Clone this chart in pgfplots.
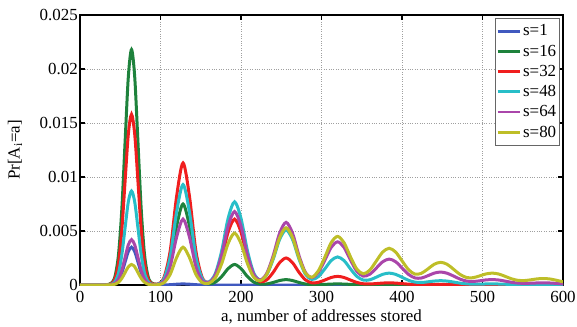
\documentclass[border=0pt]{standalone}
\usepackage{fontspec}
\setmainfont{Liberation Serif}
\usepackage{pgfplots}
\usepackage{pgfplotstable}
\pgfplotsset{compat=1.18}
\definecolor{c1}{RGB}{64,89,191}
\definecolor{c16}{RGB}{30,130,60}
\definecolor{c32}{RGB}{240,30,30}
\definecolor{c48}{RGB}{40,190,200}
\definecolor{c64}{RGB}{170,70,170}
\definecolor{c80}{RGB}{190,190,40}
\pgfplotstableread{
x s1 s16 s32 s48 s64 s80
0 0 0 0 0 0 0
16 0 0 0 0 0 0
32 0 0 0 0 0 0
40 0.000039 0.00024 0.000174 0.000096 0.000046 0.000021
44 0.000154 0.000957 0.000694 0.000382 0.000184 0.000083
48 0.000473 0.00294 0.00213 0.00117 0.000567 0.000257
52 0.00114 0.00708 0.00513 0.00282 0.00136 0.000617
56 0.00212 0.01323 0.00959 0.00528 0.00255 0.00115
60 0.00309 0.01924 0.01394 0.00768 0.00371 0.00168
64 0.0035 0.0218 0.0158 0.0087 0.0042 0.0019
68 0.00309 0.01924 0.01394 0.00768 0.00371 0.00168
72 0.00212 0.01323 0.00959 0.00528 0.00255 0.00115
76 0.00114 0.00708 0.00513 0.00282 0.00136 0.000617
80 0.000473 0.00294 0.00213 0.00117 0.000567 0.000257
84 0.000154 0.000957 0.000694 0.000382 0.000184 0.000083
88 0.000039 0.000242 0.000177 0.000099 0.000048 0.000022
96 0.000002 0.000052 0.000073 0.000059 0.000038 0.000022
104 0.0000056 0.00042 0.000633 0.000521 0.000342 0.000196
112 0.000028 0.00209 0.00314 0.00259 0.0017 0.000973
120 0.000073 0.00545 0.0082 0.00675 0.00443 0.00254
128 0.0001 0.0075 0.0113 0.0093 0.0061 0.0035
136 0.000073 0.00545 0.0082 0.00675 0.00443 0.00254
144 0.000028 0.00209 0.00314 0.00259 0.0017 0.000974
152 0.0000056 0.000428 0.000657 0.000552 0.000369 0.000215
160 0.0000006 0.0001 0.000245 0.000279 0.000234 0.00016
168 0 0.000259 0.000827 0.00104 0.00092 0.000649
176 0 0.000781 0.00251 0.00316 0.00279 0.00197
184 0 0.00152 0.00489 0.00617 0.00545 0.00384
192 0 0.0019 0.0061 0.0077 0.0068 0.0048
200 0 0.00152 0.00489 0.00617 0.00545 0.00384
208 0 0.000782 0.00251 0.00317 0.0028 0.00198
216 0 0.000261 0.000847 0.00109 0.00097 0.000696
224 0 0.000079 0.000297 0.000468 0.000475 0.000393
232 0 0.000099 0.000479 0.000959 0.00108 0.000984
240 0 0.000235 0.00117 0.00239 0.00272 0.00249
248 0 0.000414 0.00207 0.00422 0.0048 0.00438
256 0 0.0005 0.0025 0.0051 0.0058 0.0053
264 0 0.000414 0.00207 0.00422 0.0048 0.00439
272 0 0.000235 0.00118 0.00241 0.00274 0.00252
280 0 0.000094 0.000478 0.001 0.00117 0.0011
288 0 0.000034 0.000202 0.000513 0.00069 0.000718
296 0 0.000032 0.000245 0.000769 0.00116 0.0013
304 0 0.000057 0.000455 0.00148 0.00227 0.00255
312 0 0.000087 0.000694 0.00226 0.00348 0.00392
320 0 0.0001 0.0008 0.0026 0.004 0.0045
328 0 0.000087 0.000695 0.00226 0.00348 0.00392
336 0 0.000057 0.000457 0.00149 0.00231 0.00261
344 0 0.000028 0.000235 0.000792 0.00126 0.00146
352 0 0.00001 0.000116 0.000455 0.00082 0.00104
360 0 0.000003 0.000097 0.000481 0.001 0.00138
368 0 0.0000006 0.000133 0.000722 0.00156 0.00221
376 0 0 0.00018 0.000988 0.00215 0.00305
384 0 0 0.0002 0.0011 0.0024 0.0034
392 0 0 0.000179 0.000988 0.00216 0.00306
400 0 0 0.00013 0.000718 0.00158 0.00224
408 0 0 0.000078 0.00044 0.000988 0.00143
416 0 0 0.000044 0.000269 0.000655 0.00101
424 0 0 0.000033 0.000233 0.000644 0.00108
432 0 0 0.000038 0.000291 0.000855 0.00148
440 0 0 0.000046 0.000366 0.0011 0.00192
448 0 0 0.00005 0.0004 0.0012 0.0021
456 0 0 0.000045 0.000363 0.00109 0.00192
464 0 0 0.000034 0.000274 0.00083 0.00146
472 0 0 0.000021 0.000175 0.000548 0.000983
480 0 0 0.00001 0.000106 0.000368 0.000699
488 0 0 0.000004 0.000079 0.000327 0.000674
496 0 0 0.0000015 0.000082 0.000386 0.000832
504 0 0 0 0.000095 0.000468 0.00102
512 0 0 0 0.0001 0.0005 0.0011
520 0 0 0 0.000092 0.000462 0.00102
528 0 0 0 0.000072 0.000362 0.000805
536 0 0 0 0.000049 0.000252 0.000576
544 0 0 0 0.000033 0.000177 0.000433
552 0 0 0 0.000026 0.000152 0.000412
560 0 0 0 0.000026 0.000166 0.000481
568 0 0 0 0.000029 0.000192 0.000568
576 0 0 0 0.00003 0.0002 0.0006
584 0 0 0 0.000028 0.000185 0.000554
592 0 0 0 0.000022 0.000145 0.000436
600 0 0 0 0.000015 0.000097 0.000292
}\datatable
\begin{document}
\begin{tikzpicture}[font=\fontsize{17}{20}\selectfont]
\begin{axis}[
  width=483bp, height=270bp, scale only axis,
  xmin=0, xmax=600, ymin=0, ymax=0.025,
  xtick={0,100,200,300,400,500,600},
  ytick={0,0.005,0.01,0.015,0.02,0.025},
  yticklabels={0,0.005,0.01,0.015,0.02,0.025},
  yticklabel style={inner xsep=2bp, inner ysep=0bp},
  xticklabel style={inner ysep=6.5bp},
  tick align=inside, major tick length=5bp,
  axis line style={line width=1.6bp},
  every tick/.style={black, line width=1.2bp},
  grid=major, major grid style={dotted, gray!75, line width=0.8bp},
  /pgf/number format/assume math mode=true,
  scaled y ticks=false,
  xlabel={a, number of addresses stored},
  ylabel={Pr[A\textsubscript{i}=a]},
  xlabel style={inner ysep=0bp},
  ylabel style={at={(axis description cs:-0.1346,0.5)}, anchor=center},
  legend cell align=left,
  legend style={at={(1,1)}, anchor=north east, xshift=-3bp, yshift=-3bp,
    draw=black!60, line width=0.6bp, inner xsep=1.5bp, inner ysep=4.5bp, row sep=3.5bp,
    font=\fontsize{17}{19}\selectfont},
  legend image code/.code={\draw[#1, line width=2.8bp] (0bp,0bp) -- (22bp,0bp);},
  every axis plot/.append style={line width=3bp, smooth},
]
\coordinate (ll) at (rel axis cs:0,0);
\coordinate (ur) at (rel axis cs:1,1);
\addplot[c1] table[x=x, y=s1] {\datatable};
\addplot[c16] table[x=x, y=s16] {\datatable};
\addplot[c32] table[x=x, y=s32] {\datatable};
\addplot[c48] table[x=x, y=s48] {\datatable};
\addplot[c64] table[x=x, y=s64] {\datatable};
\addplot[c80] table[x=x, y=s80] {\datatable};
\legend{s=1,s=16,s=32,s=48,s=64,s=80}
\end{axis}
\pgfresetboundingbox
\path ([shift={(-80bp,-42bp)}]ll) rectangle ([shift={(14bp,15bp)}]ur);
\end{tikzpicture}
\end{document}
